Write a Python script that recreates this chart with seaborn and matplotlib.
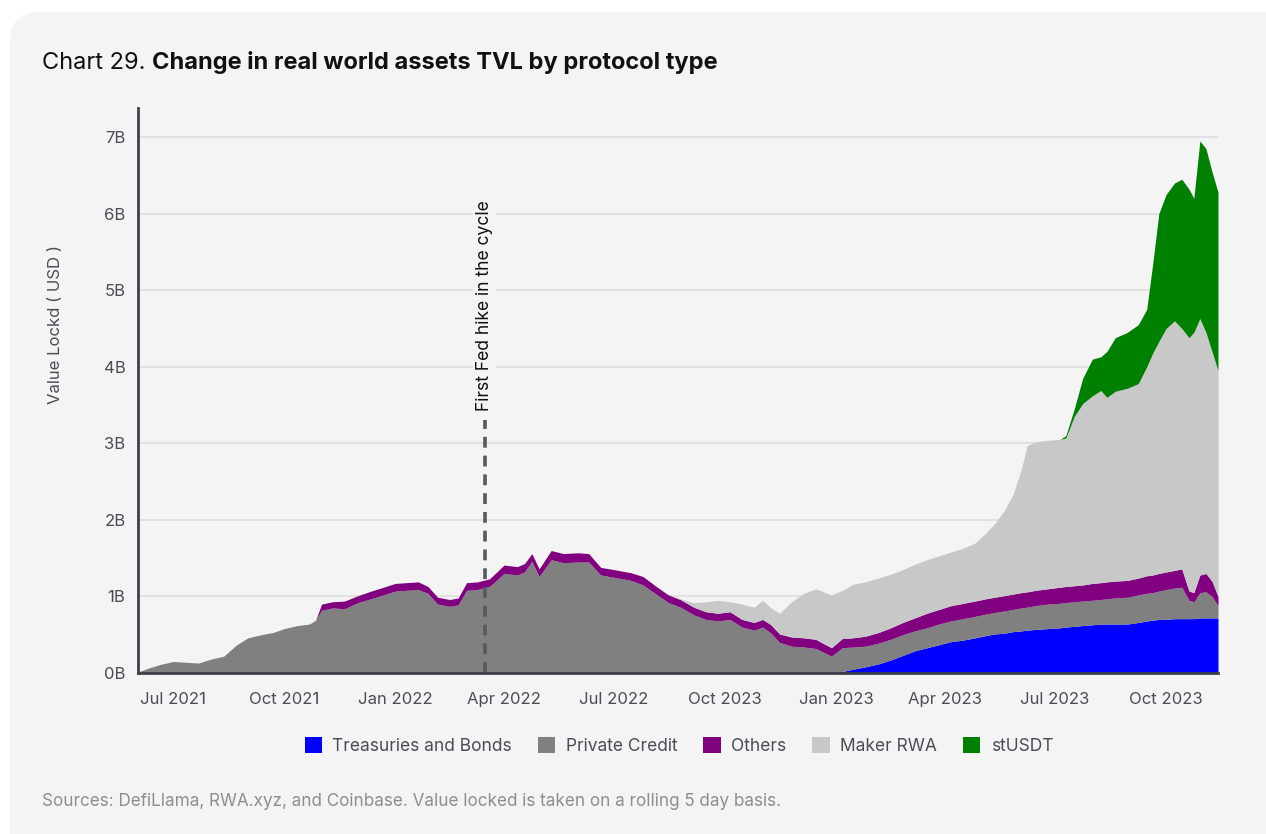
import matplotlib
matplotlib.use("Agg")
import matplotlib.pyplot as plt
from matplotlib.patches import FancyBboxPatch, Patch
import numpy as np
import pandas as pd
import seaborn as sns

# Value locked by protocol type, billions of USD
dates = [
    "2021-06-03", "2021-06-10", "2021-06-20", "2021-07-01", "2021-07-12", "2021-07-22",
    "2021-08-01", "2021-08-12", "2021-08-22", "2021-09-01", "2021-09-12", "2021-09-22",
    "2021-10-01", "2021-10-12", "2021-10-22", "2021-10-27", "2021-11-01", "2021-11-10",
    "2021-11-20", "2021-12-01", "2021-12-12", "2021-12-22", "2022-01-01", "2022-01-10",
    "2022-01-20", "2022-01-28", "2022-02-05", "2022-02-15", "2022-02-22", "2022-03-01",
    "2022-03-10", "2022-03-20", "2022-04-01", "2022-04-12", "2022-04-18", "2022-04-24",
    "2022-04-30", "2022-05-10", "2022-05-20", "2022-06-01", "2022-06-10", "2022-06-20",
    "2022-07-01", "2022-07-15", "2022-07-25", "2022-08-05", "2022-08-15", "2022-08-25",
    "2022-09-05", "2022-09-15", "2022-09-25", "2022-10-05", "2022-10-15", "2022-10-25",
    "2022-11-01", "2022-11-08", "2022-11-15", "2022-11-25", "2022-12-05", "2022-12-15",
    "2022-12-28", "2023-01-06", "2023-01-15", "2023-01-25", "2023-02-05", "2023-02-15",
    "2023-02-25", "2023-03-07", "2023-03-17", "2023-03-27", "2023-04-06", "2023-04-16",
    "2023-04-26", "2023-05-05", "2023-05-12", "2023-05-20", "2023-05-27", "2023-06-03",
    "2023-06-08", "2023-06-15", "2023-06-25", "2023-07-05", "2023-07-10", "2023-07-17",
    "2023-07-24", "2023-08-01", "2023-08-08", "2023-08-13", "2023-08-20", "2023-08-30",
    "2023-09-08", "2023-09-15", "2023-09-20", "2023-09-25", "2023-10-01", "2023-10-08",
    "2023-10-14", "2023-10-20", "2023-10-24", "2023-10-29", "2023-11-03", "2023-11-08",
    "2023-11-13",
]

treasuries_and_bonds = [0.0] * 61 + [
    0.02, 0.05, 0.08, 0.12, 0.17, 0.23, 0.29, 0.33, 0.37, 0.41, 0.43, 0.46,
    0.49, 0.51, 0.52, 0.54, 0.55, 0.56, 0.57, 0.58, 0.59, 0.60, 0.61, 0.62,
    0.63, 0.64, 0.64, 0.64, 0.64, 0.66, 0.68, 0.69, 0.70, 0.70, 0.71, 0.71,
    0.71, 0.71, 0.72, 0.72, 0.72, 0.72,
]

private_credit = [
    0.02, 0.06, 0.11, 0.15, 0.14, 0.13, 0.18, 0.22, 0.36, 0.46, 0.50, 0.53,
    0.58, 0.62, 0.64, 0.69, 0.82, 0.85, 0.84, 0.92, 0.97, 1.02, 1.07, 1.08,
    1.09, 1.04, 0.90, 0.87, 0.89, 1.08, 1.09, 1.13, 1.30, 1.28, 1.32, 1.46,
    1.26, 1.48, 1.44, 1.45, 1.45, 1.28, 1.25, 1.21, 1.15, 1.03, 0.92, 0.86,
    0.76, 0.70, 0.68, 0.70, 0.60, 0.56, 0.60, 0.52, 0.40, 0.35, 0.34, 0.32,
    0.22, 0.31, 0.29, 0.27, 0.27, 0.27, 0.27, 0.26, 0.26, 0.27, 0.27, 0.28,
    0.28, 0.28, 0.28, 0.29, 0.29, 0.30, 0.30, 0.31, 0.32, 0.32, 0.32, 0.32,
    0.32, 0.32, 0.32, 0.33, 0.34, 0.35, 0.36, 0.36, 0.36, 0.37, 0.39, 0.40,
    0.41, 0.24, 0.22, 0.33, 0.34, 0.28, 0.16,
]

others = [0.0] * 16 + [
    0.08, 0.08, 0.10, 0.09, 0.10, 0.10, 0.10, 0.10, 0.10, 0.09, 0.09, 0.09,
    0.09, 0.10, 0.10, 0.10, 0.11, 0.11, 0.11, 0.10, 0.10, 0.12, 0.12, 0.12,
    0.11, 0.10, 0.10, 0.10, 0.11, 0.10, 0.10, 0.10, 0.10, 0.10, 0.10, 0.10,
    0.10, 0.10, 0.10, 0.11, 0.11, 0.12, 0.12, 0.12, 0.11, 0.12, 0.12, 0.13,
    0.14, 0.15, 0.16, 0.17, 0.19, 0.19, 0.20, 0.20, 0.20, 0.20, 0.20, 0.20,
    0.20, 0.20, 0.20, 0.20, 0.20, 0.21, 0.21, 0.21, 0.21, 0.22, 0.22, 0.22,
    0.22, 0.22, 0.22, 0.23, 0.23, 0.23, 0.23, 0.23, 0.24, 0.12, 0.12, 0.23,
    0.24, 0.20, 0.12,
]

maker_rwa = [0.0] * 47 + [
    0.01, 0.06, 0.13, 0.17, 0.13, 0.20, 0.20, 0.25, 0.22, 0.27, 0.46, 0.58,
    0.66, 0.69, 0.63, 0.70, 0.71, 0.71, 0.70, 0.69, 0.70, 0.70, 0.70, 0.70,
    0.72, 0.76, 0.86, 0.96, 1.11, 1.29, 1.60, 1.91, 1.94, 1.94, 1.93, 1.94,
    2.21, 2.37, 2.45, 2.51, 2.41, 2.48, 2.51, 2.54, 2.73, 2.90, 3.03, 3.18,
    3.26, 3.14, 3.31, 3.40, 3.35, 3.15, 3.00, 2.95,
]

stusdt = [0.0] * 82 + [
    0.03, 0.10, 0.33, 0.48, 0.44, 0.60, 0.70, 0.73, 0.77, 0.75, 1.17, 1.67,
    1.75, 1.80, 1.95, 1.94, 1.75, 2.32, 2.40, 2.35, 2.33,
]

series_names = ["Treasuries and Bonds", "Private Credit", "Others", "Maker RWA", "stUSDT"]
series_colors = ["#0000ff", "#808080", "#800080", "#c8c8c8", "#008000"]

tick_dates = ["2021-07-01", "2021-10-01", "2022-01-01", "2022-04-01", "2022-07-01",
              "2022-10-01", "2023-01-01", "2023-04-01", "2023-07-01", "2023-10-01"]
tick_labels = ["Jul 2021", "Oct 2021", "Jan 2022", "Apr 2022", "Jul 2022",
               "Oct 2023", "Jan 2023", "Apr 2023", "Jul 2023", "Oct 2023"]
y_ticks = [0, 1, 2, 3, 4, 5, 6, 7]

fed_hike_date = "2022-03-16"
fed_hike_label = "First Fed hike in the cycle"

title_prefix = "Chart 29."
title_main = "Change in real world assets TVL by protocol type"
source_note = "Sources: DefiLlama, RWA.xyz, and Coinbase. Value locked is taken on a rolling 5 day basis."

df = pd.DataFrame(
    {
        "Treasuries and Bonds": treasuries_and_bonds,
        "Private Credit": private_credit,
        "Others": others,
        "Maker RWA": maker_rwa,
        "stUSDT": stusdt,
    },
    index=pd.to_datetime(dates),
)

sns.set_theme(style="white")
plt.rcParams["font.family"] = ["Inter", "DejaVu Sans"]

PANEL = "#f4f4f4"
TEXT = "#4a4d57"

fig = plt.figure(figsize=(12.66, 8.34), dpi=100, facecolor="white")
panel = FancyBboxPatch((0.10, -1.0), 14.0, 8.22 + 1.0,
                       boxstyle="round,pad=0,rounding_size=0.3",
                       transform=fig.dpi_scale_trans, facecolor=PANEL,
                       edgecolor="none", zorder=-10)
fig.patches.append(panel)

ax = fig.add_axes([138 / 1266, 1 - 673 / 834, (1218 - 138) / 1266, (673 - 108) / 834])
ax.set_facecolor(PANEL)

ax.stackplot(df.index, [df[c].values for c in series_names],
             colors=series_colors, linewidth=0, zorder=2)

ax.set_xlim(pd.Timestamp("2021-06-02"), pd.Timestamp("2023-11-13"))
ax.set_ylim(0, 7.38)

ax.set_yticks(y_ticks)
ax.set_yticklabels([f"{v}B" for v in y_ticks])
ax.set_xticks(pd.to_datetime(tick_dates))
ax.set_xticklabels(tick_labels)
ax.tick_params(axis="both", length=0, labelsize=12, colors=TEXT)
ax.tick_params(axis="x", pad=14)
ax.tick_params(axis="y", pad=9)

ax.grid(axis="y", color="#e1e1e1", linewidth=1.4, zorder=1)
ax.grid(axis="x", visible=False)
ax.set_axisbelow(True)
sns.despine(ax=ax, top=True, right=True)
for side in ("left", "bottom"):
    ax.spines[side].set_color("#3d404b")
    ax.spines[side].set_linewidth(2)
    ax.spines[side].set_zorder(5)

ax.set_ylabel("Value Lockd ( USD )", fontsize=12, color=TEXT)
ax.yaxis.set_label_coords(-0.069, 0.616)

# Fed hike marker
fed_x = pd.Timestamp(fed_hike_date)
ax.vlines(fed_x, 0, 3.3, colors="#555a60", linestyles=(0, (3, 2.2)), linewidth=2.6, zorder=4)
ax.text(fed_x, 3.42, fed_hike_label, rotation=90, ha="center", va="bottom",
        fontsize=12.6, color="#111111", zorder=6,
        bbox=dict(facecolor=PANEL, edgecolor="none", pad=2))

# Title: regular prefix followed by a bold headline
t1 = fig.text(42 / 1266, 1 - 69 / 834, title_prefix + " ", fontsize=17,
              color="#111111", ha="left", va="baseline")
fig.canvas.draw()
ax.annotate(title_main, xy=(1, 0), xycoords=t1, fontsize=17,
            fontweight="bold", color="#111111", ha="left", va="bottom",
            annotation_clip=False)

# Legend
handles = [Patch(facecolor=c, edgecolor="none", label=n) for n, c in zip(series_names, series_colors)]
fig.legend(handles=handles, loc="center", bbox_to_anchor=(679 / 1266, 1 - 746 / 834),
           ncol=5, frameon=False, fontsize=12.5, handlelength=1.0, handleheight=1.0,
           handletextpad=0.6, columnspacing=1.5, labelcolor=TEXT)

fig.text(42 / 1266, 1 - 801 / 834, source_note, fontsize=12.3, color="#8e8e8e",
         ha="left", va="center")

fig.savefig("out.png", dpi=100, facecolor="white")
